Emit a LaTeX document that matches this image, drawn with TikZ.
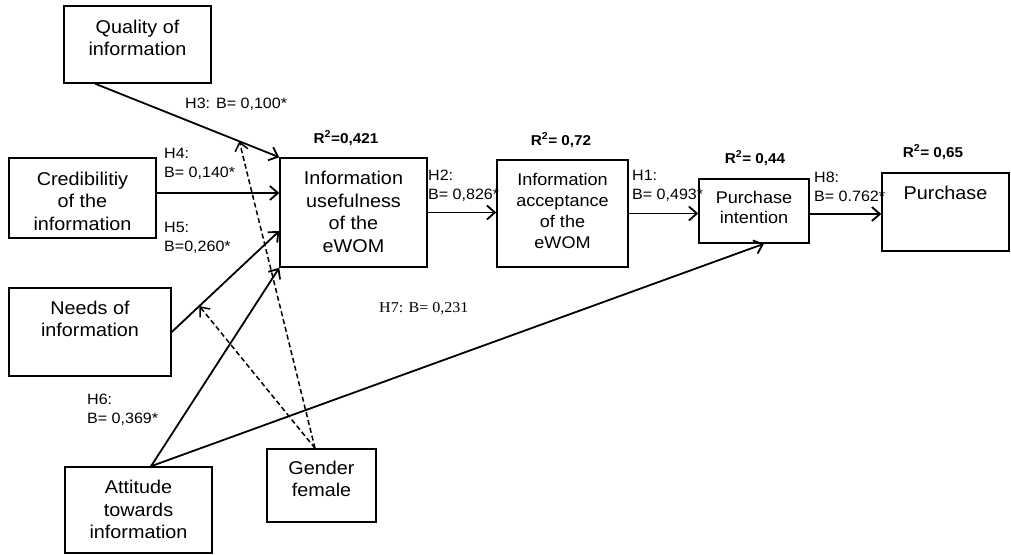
\documentclass[tikz,border=0pt]{standalone}
\usepackage{fontspec}
\setmainfont{Liberation Sans}[FakeStretch=1.07]
\newfontfamily\hserif{Liberation Serif}[FakeStretch=1.07]
\usetikzlibrary{arrows.meta,calc}
\newcommand\mainsz{\fontsize{18.5}{22.5}\selectfont}
\newcommand\smallsz{\fontsize{16.9}{20.7}\selectfont}
\newcommand\labsz{\fontsize{15}{19}\selectfont}
\begin{document}
\begin{tikzpicture}[x=1pt,y=-1pt,
  box/.style={draw,line width=1.5pt,inner sep=0pt},
  txt/.style={align=center,inner sep=0pt,font=\mainsz},
  stxt/.style={align=center,inner sep=0pt,font=\smallsz},
  lab/.style={align=left,anchor=west,inner sep=0pt,font=\labsz},
  rsq/.style={inner sep=0pt,font=\fontsize{14.3}{17}\selectfont\bfseries},
  arr/.style={line width=1.8pt,-{Straight Barb[length=8pt,width=14pt]}},
  darr/.style={line width=1.5pt,dash pattern=on 5pt off 3pt,-{Straight Barb[length=8pt,width=13pt]}}]
\useasboundingbox (0,0) rectangle (1011,554);

% boxes
\node[box,minimum width=147pt,minimum height=77pt] (Q) at (137.5,44.5) {};
\node[box,minimum width=147pt,minimum height=80pt] (C) at (82.5,198) {};
\node[box,minimum width=147pt,minimum height=109pt] (U) at (353.5,212.5) {};
\node[box,minimum width=131pt,minimum height=107pt] (A) at (562.5,213.5) {};
\node[box,minimum width=110pt,minimum height=64pt] (PI) at (754,211) {};
\node[box,minimum width=127pt,minimum height=78pt] (P) at (945.5,212) {};
\node[box,minimum width=162pt,minimum height=88pt] (N) at (90,332) {};
\node[box,minimum width=147pt,minimum height=86pt] (AT) at (138.5,510) {};
\node[box,minimum width=109pt,minimum height=73pt] (G) at (321.5,485.5) {};

% box texts
\node[txt] (Qt) at (137.5,38) {Quality of\\information};
\node[txt] (Ct) at (82.5,201) {Credibilitiy\\of the\\information};
\node[txt] (Ut) at (353.5,212) {Information\\usefulness\\of the\\eWOM};
\node[stxt] (At) at (562.5,211) {Information\\acceptance\\of the\\eWOM};
\node[stxt] (PIt) at (754,207.5) {Purchase\\intention};
\node[txt] (Pt) at (945.5,193) {Purchase};
\node[txt] (Nt) at (90,319) {Needs of\\information};
\node[txt] (ATt) at (138.5,509.5) {Attitude\\towards\\information};
\node[txt] (Gt) at (321.5,479) {Gender\\female};

% R squared
\node[rsq] (r1) at (346,138) {R\textsuperscript{2}=0,421};
\node[rsq] (r2) at (561,140) {R\textsuperscript{2}= 0,72};
\node[rsq] (r3) at (755,158) {R\textsuperscript{2}= 0,44};
\node[rsq] (r4) at (933,152) {R\textsuperscript{2}= 0,65};

% coordinates
\coordinate (q1) at ($(Q.south west)+(32,0)$);
\coordinate (c1) at ($(C.east)+(0,-5)$);
\coordinate (u2) at ($(U.west)+(0,18.5)$);
\coordinate (at1) at ($(AT.north)+(12.5,0)$);
\coordinate (pi1) at ($(PI.south)+(10,0)$);
\coordinate (g1) at ($(G.north)+(-6.5,0)$);
\coordinate (pi2) at ($(PI.east)+(0,3)$);

% solid arrows
\draw[arr] (q1) -- (U.north west);
\draw[arr] (c1) -- (c1 -| U.west);
\draw[arr] (N.east) -- (u2);
\draw[arr] (at1) -- (U.south west);
\draw[arr] (at1) -- (pi1);
\draw[arr] (U.east) -- (U.east -| A.west);
\draw[arr] (A.east) -- (A.east -| PI.west);
\draw[arr] (pi2) -- (pi2 -| P.west);

% dashed arrows
\draw[darr] (g1) -- ($(q1)!0.783!(U.north west)$);
\draw[darr] (g1) -- ($(N.east)!0.257!(u2)$);

% labels
\node[lab] (h3) at (185,104) {H3: B= 0,100*};
\node[lab] (h4) at (164,163.5) {H4:\\B= 0,140*};
\node[lab] (h5) at (164,238) {H5:\\B=0,260*};
\node[lab] (h2) at (428,186) {H2:\\B= 0,826*};
\node[lab] (h1) at (632,185.5) {H1:\\B= 0,493*};
\node[lab] (h8) at (814,186.5) {H8:\\B= 0.762*};
\node[lab] (h6) at (87,410) {H6:\\B= 0,369*};
\node[lab,font=\hserif\labsz] (h7) at (379,309) {H7: B= 0,231};
\end{tikzpicture}
\end{document}
